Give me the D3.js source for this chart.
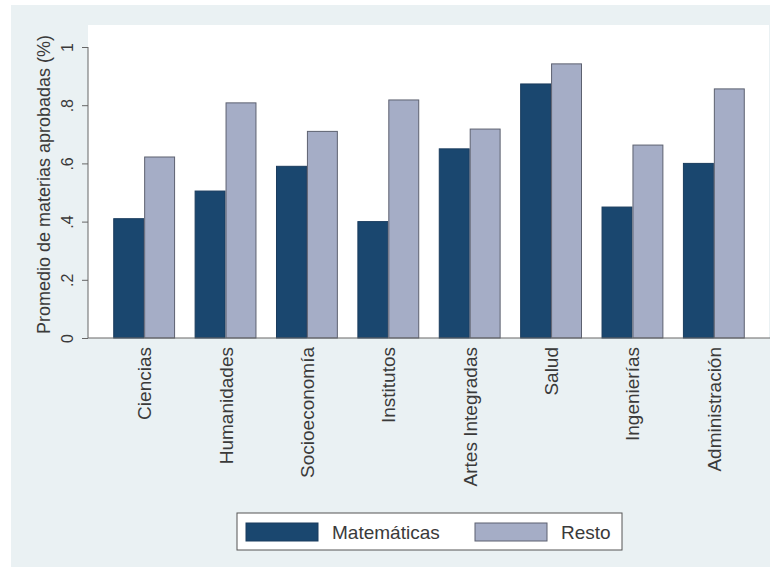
<!DOCTYPE html>
<html>
<head>
<meta charset="utf-8">
<script src="https://cdn.jsdelivr.net/npm/d3@7"></script>
<style>
  body { margin: 0; background: #fff; }
  text { font-family: "Liberation Sans", Arial, sans-serif; fill: #3a3a3a; }
</style>
</head>
<body>
<svg id="chart" width="777" height="570"></svg>
<script>
// Data.
const categories = ['Ciencias', 'Humanidades', 'Socioeconomía', 'Institutos',
  'Artes Integradas', 'Salud', 'Ingenierías', 'Administración'];
const seriesNames = ['Matemáticas', 'Resto'];
const matematicas = [0.41, 0.505, 0.59, 0.40, 0.65, 0.873, 0.45, 0.60];
const resto = [0.622, 0.808, 0.71, 0.818, 0.718, 0.942, 0.663, 0.856];
const yTicks = [0, 0.2, 0.4, 0.6, 0.8, 1];
const yTickLabels = ['0', '.2', '.4', '.6', '.8', '1'];
const yTitle = 'Promedio de materias aprobadas (%)';

const colors = ['#1a476f', '#a5adc6'];
const strokes = ['#1a3c5e', '#5d6170'];

const svg = d3.select('#chart');

// Graph region (light bluish) and plot region (white).
svg.append('rect').attr('x', 11).attr('y', 5).attr('width', 759).attr('height', 562)
  .attr('fill', '#eaf1f3');
svg.append('rect').attr('x', 88).attr('y', 25).attr('width', 681).attr('height', 313)
  .attr('fill', '#fff');

const plot = { left: 88, right: 770, top: 25, bottom: 338 };

const x0 = d3.scaleBand()
  .domain(categories)
  .range([plot.left, plot.right])
  .paddingInner(0.24)
  .paddingOuter(0.31);

const x1 = d3.scaleBand()
  .domain(seriesNames)
  .range([0, x0.bandwidth()]);

const y = d3.scaleLinear()
  .domain([0, 1])
  .range([plot.bottom, 47]);

const rows = categories.map((c, i) => ({ cat: c, vals: [matematicas[i], resto[i]] }));

// Bars
svg.append('g')
  .selectAll('g')
  .data(rows)
  .join('g')
  .attr('transform', d => `translate(${x0(d.cat)},0)`)
  .selectAll('rect')
  .data(d => d.vals.map((v, j) => ({ v, j })))
  .join('rect')
  .attr('x', d => x1(seriesNames[d.j]) + 0.5)
  .attr('y', d => y(d.v))
  .attr('width', x1.bandwidth() - 1)
  .attr('height', d => y(0) - y(d.v))
  .attr('fill', d => colors[d.j])
  .attr('stroke', d => strokes[d.j])
  .attr('stroke-width', 1);

// Y axis
const yAxis = svg.append('g')
  .attr('transform', `translate(${plot.left},0)`)
  .call(d3.axisLeft(y).tickValues(yTicks).tickSize(6).tickPadding(4)
    .tickFormat((d, i) => yTickLabels[i]));
yAxis.select('.domain').attr('stroke', '#666').attr('d', `M0,${plot.bottom}V47`);
yAxis.selectAll('.tick line').attr('stroke', '#666');
yAxis.selectAll('.tick text')
  .attr('x', null).attr('dy', null)
  .attr('transform', 'translate(-15,0) rotate(-90)')
  .attr('text-anchor', 'middle')
  .style('font-size', '16px');

svg.append('text')
  .attr('transform', `translate(50,${(plot.bottom + 25) / 2 + 3}) rotate(-90)`)
  .attr('text-anchor', 'middle')
  .style('font-size', '18px')
  .text(yTitle);

// X axis
const xAxis = svg.append('g')
  .attr('transform', `translate(0,${plot.bottom})`)
  .call(d3.axisBottom(x0).tickSize(0).tickPadding(0));
xAxis.select('.domain').attr('stroke', '#666').attr('d', `M${plot.left},0H${plot.right}`);
xAxis.selectAll('.tick text')
  .attr('y', null).attr('dy', null)
  .attr('transform', 'translate(7,9) rotate(-90)')
  .attr('text-anchor', 'end')
  .style('font-size', '19px');

// Legend
const legend = svg.append('g');
legend.append('rect').attr('x', 237).attr('y', 513).attr('width', 385).attr('height', 37)
  .attr('fill', '#fff').attr('stroke', '#555').attr('stroke-width', 1);
const legendX = [246, 475];
seriesNames.forEach((name, j) => {
  legend.append('rect')
    .attr('x', legendX[j]).attr('y', 523).attr('width', 72).attr('height', 18)
    .attr('fill', colors[j]).attr('stroke', strokes[j]);
  legend.append('text')
    .attr('x', legendX[j] + 86).attr('y', 539)
    .style('font-size', '19px')
    .text(name);
});
</script>
</body>
</html>
